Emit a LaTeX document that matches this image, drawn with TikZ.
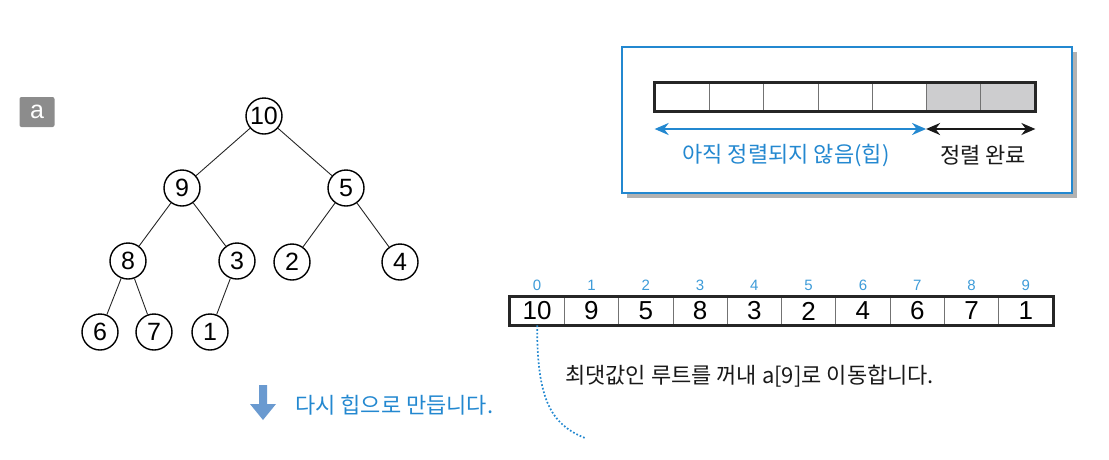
\documentclass[tikz,border=0pt]{standalone}
\usepackage{fontspec}
\setmainfont{Liberation Sans}
\newfontfamily\kr{Noto Sans CJK KR}
\usetikzlibrary{arrows.meta}
\definecolor{myblue}{HTML}{2388D0}
\definecolor{idxblue}{HTML}{3D9BD8}
\definecolor{arrblue}{HTML}{6A9AD0}
\definecolor{cellgray}{HTML}{CDCDCF}
\definecolor{labgray}{HTML}{8C8C8C}
\begin{document}
\begin{tikzpicture}[x=1pt,y=-1pt,
  tn/.style={circle,draw,line width=1.4pt,minimum size=36pt,inner sep=0pt,font=\fontsize{25}{25}\selectfont},
  edge/.style={draw=black!85,line width=0.9pt},
  cellA/.style={draw=black!55,line width=0.7pt,minimum width=54.29pt,minimum height=28pt,inner sep=0pt},
  cellB/.style={draw=black!55,line width=0.7pt,minimum width=54.3pt,minimum height=28pt,inner sep=0pt,font=\fontsize{26}{26}\selectfont},
  idx/.style={text=idxblue,font=\fontsize{15}{15}\selectfont,inner sep=0pt},
  krtext/.style={font=\kr\fontsize{22}{22}\selectfont,inner sep=0pt,anchor=west},
  dbl/.style={line width=2pt,{Stealth[length=14pt,width=12pt]}-{Stealth[length=14pt,width=12pt]}}
]
\useasboundingbox (0,0) rectangle (1109,459);

% label a
\node[fill=labgray,rounded corners=2pt,text=white,minimum width=35pt,minimum height=30pt,inner sep=0pt,font=\fontsize{25}{25}\selectfont] (lab) at (37,112) {a};

% tree
\node[tn] (n10) at (264,116) {10};
\node[tn] (n9) at (182,188) {9};
\node[tn] (n5) at (346,188) {5};
\node[tn] (n8) at (128,261) {8};
\node[tn] (n3) at (237,261) {3};
\node[tn] (n2) at (292,262) {2};
\node[tn] (n4) at (400,262) {4};
\node[tn] (n6) at (100,332) {6};
\node[tn] (n7) at (154,332) {7};
\node[tn] (n1) at (210,332) {1};
\draw[edge] (n10) -- (n9);
\draw[edge] (n10) -- (n5);
\draw[edge] (n9) -- (n8);
\draw[edge] (n9) -- (n3);
\draw[edge] (n5) -- (n2);
\draw[edge] (n5) -- (n4);
\draw[edge] (n8) -- (n6);
\draw[edge] (n8) -- (n7);
\draw[edge] (n3) -- (n1);

% framed box with shadow
\fill[black!30] (627,52) rectangle (1077,198);
\node[draw=myblue,line width=1.5pt,fill=white,minimum width=450pt,minimum height=146pt,inner sep=0pt] (frame) at (847,120) {};

% top array
\foreach \i in {0,...,6}{
  \ifnum\i>4
    \node[cellA,fill=cellgray] (t\i) at ({655+54.29*(\i+0.5)},97) {};
  \else
    \node[cellA] (t\i) at ({655+54.29*(\i+0.5)},97) {};
  \fi
}
\draw[line width=2.4pt,black!85] (t0.north west) rectangle (t6.south east);
\coordinate (aL) at (t0.south west |- 0,129);
\coordinate (aM) at (t5.south west |- 0,129);
\coordinate (aR) at (t6.south east |- 0,129);
\draw[dbl,myblue] (aL) -- (aM);
\draw[dbl,black!90] (aM) -- (aR);
\node[krtext,text=myblue,anchor=center] (tA) at (786,155) {아직 정렬되지 않음(힙)};
\node[krtext,text=black!90,anchor=center] (tB) at (983,155) {정렬 완료};

% bottom array
\foreach \v [count=\c from 0] in {10,9,5,8,3,2,4,6,7,1}{
  \node[cellB] (b\c) at ({510+54.3*(\c+0.5)},311) {\v};
  \node[idx] (i\c) at ({510+54.3*(\c+0.5)},285) {\c};
}
\draw[line width=2.4pt,black!85] (b0.north west) rectangle (b9.south east);

% dotted curve
\coordinate (dEnd) at (585,438);
\draw[myblue,line width=1.7pt,dotted] (b0.south) .. controls (537,398) and (550,424) .. (dEnd);

\node[krtext,text=black!90] (msg) at (565,376) {최댓값인 루트를 꺼내 a[9]로 이동합니다.};

% down arrow
\fill[arrblue] (259,385) -- (267,385) -- (267,404) -- (276,404) -- (263,420) -- (250,404) -- (259,404) -- cycle;
\node[krtext,text=myblue] (msg2) at (295,405) {다시 힙으로 만듭니다.};
\end{tikzpicture}
\end{document}
